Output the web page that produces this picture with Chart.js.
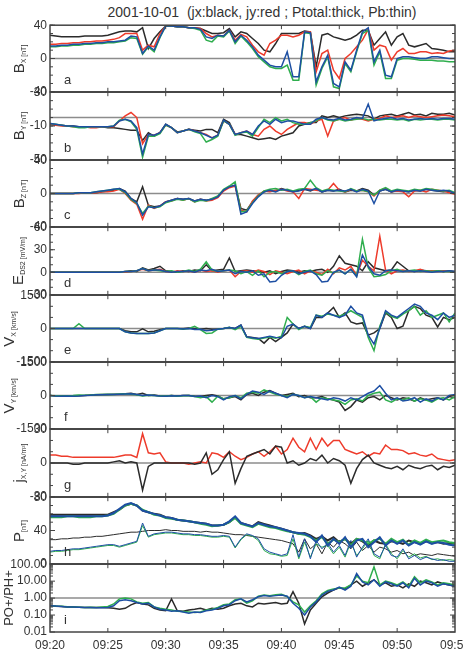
<!DOCTYPE html>
<html>
<head>
<meta charset="utf-8">
<script src="https://cdn.jsdelivr.net/npm/chart.js@4.4.1/dist/chart.umd.min.js"></script>
<style>
html, body { margin: 0; padding: 0; background: #fff; overflow: hidden; }
#page { position: relative; width: 463px; height: 657px; overflow: hidden;
        font-family: "Liberation Sans", Arial, sans-serif; color: #333; }
#page canvas { position: absolute; left: 0; }
#title { position: absolute; left: 0; top: 4px; width: 524px; text-align: center;
         font-size: 14px; white-space: pre; }
.ylab { position: absolute; transform: translate(-50%, -50%) rotate(-90deg);
        white-space: nowrap; font-size: 15px; line-height: 15px; }
.ylab sub { font-size: 7px; vertical-align: baseline; position: relative; top: 2px; }
.letter { position: absolute; left: 64px; font-size: 13px; line-height: 14px; }
</style>
</head>
<body>
<div id="page">
  <div id="title">2001-10-01  (jx:black, jy:red ; Ptotal:thick, Pb:thin)</div>
</div>
<script>
// samples every 0.5 min from 09:20 to 09:55
const STEP = 0.5;
const timeLabels = ['09:20', '09:25', '09:30', '09:35', '09:40', '09:45', '09:50', '09:55'];

const BLACK = '#2b2b2b', RED = '#ee3b2b', GREEN = '#2fae4e', BLUE = '#1d4fa3';

// a: Bx [nT]
const bxBlack = [
  28, 27, 26, 26, 26, 26, 27, 27, 27, 27,
  28, 30, 32, 33, 33, 32, 37, 12, 24, 32,
  39, 39, 38, 38, 37, 37, 36, 33, 30, 30,
  31, 36, 26, 32, 30, 24, 18, 10, 8, 18,
  30, 30, 30, 30, 33, 32, -10, 28, 30, 26,
  24, 22, 24, 28, 34, 34, 16, 24, 32, 16,
  26, 30, 16, 14, 16, 18, 12, 11, 10, 8,
  8];
const bxRed = [
  17, 17, 18, 18, 19, 19, 20, 20, 21, 21,
  22, 23, 25, 30, 30, 30, 10, 16, 14, 30,
  39, 39, 38, 38, 37, 37, 36, 30, 26, 28,
  27, 34, 22, 29, 26, 16, 8, 4, 18, 22,
  28, 28, 26, 28, 32, 32, -16, 6, 10, -14,
  -24, 0, 6, 14, 22, 35, 10, 16, 14, -2,
  8, 12, 6, 6, 8, 8, 6, 7, 6, 9,
  10];
const bxBlue = [
  15, 15, 16, 16, 17, 17, 18, 18, 19, 19,
  20, 20, 21, 22, 27, 26, 6, 15, 10, 26,
  39, 39, 38, 38, 37, 37, 35, 26, 24, 28,
  27, 34, 20, 28, 22, 14, 4, -2, -8, -10,
  -10, 8, -22, -22, 32, 31, -28, -10, 4, -30,
  -34, -4, -14, 10, 32, 37, -4, 10, -20, -22,
  0, 2, 2, 1, 0, 0, 2, 2, 1, 0,
  0];
const bxGreen = [
  14, 14, 15, 15, 16, 16, 17, 17, 18, 18,
  19, 19, 20, 21, 25, 24, 5, 14, 8, 25,
  39, 39, 38, 38, 37, 36, 34, 22, 20, 27,
  26, 33, 18, 27, 20, 12, 2, -4, -10, -12,
  -12, -8, -26, -26, 31, 30, -32, -12, 2, -34,
  -36, -6, -16, 8, 30, 34, -8, 8, -24, -24,
  -2, 0, 0, -1, -2, -2, -2, -3, -3, -4,
  -4];

// b: By [nT]
const byBlack = [
  -8, -9, -9, -10, -10, -11, -11, -11, -11, -11,
  -12, -12, -13, -14, -15, -15, -27, -18, -22, -18,
  -8, -12, -17, -16, -14, -15, -16, -14, -14, -18,
  -2, -6, -20, -20, -22, -24, -26, -25, -24, -26,
  -22, -20, -18, -10, -8, -6, -6, 2, 0, 2,
  0, 2, 3, 4, 3, 2, -2, 2, 3, 4,
  2, 4, 6, 3, 4, 2, 5, 4, 4, 5,
  3];
const byRed = [
  -8, -9, -10, -10, -11, -11, -11, -12, -12, -11,
  -11, -11, -4, 2, 6, 0, -31, -20, -21, -18,
  -9, -12, -18, -16, -14, -16, -18, -20, -24, -21,
  -4, -8, -20, -18, -16, -20, -22, -14, -10, -16,
  -20, -14, -10, -6, -6, -8, -4, -2, -22, -4,
  -2, 0, -3, -1, -2, -4, -2, -1, 2, 0,
  1, 2, 0, 2, 1, 0, 1, 2, 3, 2,
  1];
const byBlue = [
  -7, -8, -9, -10, -10, -11, -11, -11, -11, -11,
  -11, -10, -4, -2, -4, -12, -43, -20, -21, -18,
  -8, -12, -18, -16, -14, -16, -18, -21, -24, -21,
  -3, -8, -20, -18, -16, -20, -10, -4, -8, -2,
  -6, -4, -4, -6, -8, -8, -2, 0, -2, -3,
  -1, -3, -2, 0, -1, 16, -4, -2, -1, 0,
  -2, -1, -3, -2, -1, -2, -1, -2, -1, -1,
  -2];
const byGreen = [
  -7, -8, -9, -10, -11, -12, -12, -11, -11, -11,
  -11, -10, -3, -2, -5, -14, -47, -22, -22, -19,
  -9, -12, -18, -16, -14, -17, -19, -29, -26, -22,
  -4, -8, -21, -18, -17, -22, -12, -2, -6, 0,
  -4, -2, -6, -8, -8, -6, -4, 0, -3, -4,
  -2, -4, -3, -2, -1, -3, -2, -3, -2, -2,
  -3, -2, -4, -2, -3, -2, -2, -3, -2, -2,
  -3];

// c: Bz [nT]
const bzBlack = [
  0, 0, 0, 0, 0, 1, 1, 1, 1, 2,
  3, 4, 6, 3, -6, -10, 8, -14, -16, -15,
  -10, -8, -6, -7, -6, -9, -7, -8, -7, -4,
  4, 8, 10, -18, -20, -10, -2, 2, 4, 3,
  6, 4, 2, 4, 5, 3, 6, 2, 4, 3,
  5, 2, 4, 3, 6, 4, -2, 3, 5, 2,
  4, 3, 2, 4, 3, 5, 4, 3, 2, 3,
  0];
const bzRed = [
  0, 0, 0, 0, 0, 0, 1, 1, 1, 2,
  2, 3, 5, 0, -8, -13, -31, -14, -18, -15,
  -10, -9, -6, -8, -6, -10, -7, -9, -8, -5,
  3, 7, 9, -20, -22, -9, -2, 3, 2, 4,
  5, 3, 2, -6, 6, 5, 4, 3, 4, 12,
  4, 2, 5, 3, 4, 2, -3, 4, 6, 2,
  3, 2, -4, 3, 4, 2, 5, 4, 3, 1,
  -1];
const bzBlue = [
  0, 0, 0, 0, 0, 1, 1, 1, 2, 3,
  4, 5, 6, 2, -6, -11, -26, -16, -17, -15,
  -10, -8, -6, -7, -6, -9, -7, -8, -7, -4,
  4, 8, 10, -25, -22, -12, -4, 2, 4, 2,
  5, 4, 2, 3, 5, 4, 6, 2, 4, 3,
  4, 3, 5, 2, 5, 3, -12, 3, 5, 2,
  4, 3, 2, 4, 3, 5, 4, 3, 4, 3,
  0];
const bzGreen = [
  0, 0, 0, 0, 0, 1, 1, 1, 2, 3,
  4, 5, 5, 1, -7, -12, -24, -15, -17, -16,
  -11, -9, -7, -8, -6, -10, -8, -9, -6, -3,
  5, 9, 14, -22, -21, -11, -3, 3, 5, 6,
  4, 5, 3, 5, 6, 16, 7, 3, 5, 4,
  3, 2, 6, 3, 4, 2, -2, 4, 7, 3,
  5, 4, 3, 5, 4, 6, 5, 4, 3, 4,
  1];

// d: E [mV/m]
const eBlack = [
  0, 0, 0, 0, 0, 0, 0, 0, 0, 0,
  0, 0, 0, 1, 2, 1, 6, 3, 5, 8,
  2, 1, 0, 2, 1, 3, 2, 10, 2, 3,
  4, 19, 1, 2, 3, 2, 1, 0, 2, -2,
  1, 3, 2, 0, 2, 1, 3, 4, 0, 8,
  22, 12, 10, 8, 2, 14, 6, 4, 2, 3,
  14, 8, 2, 1, 3, 2, 1, 2, 1, 2,
  1];
const eRed = [
  0, 0, 0, 0, 0, 0, 0, 0, 0, 0,
  0, 0, 0, 0, 1, 2, 4, 2, 3, 4,
  1, 0, 2, 1, 2, 0, 3, 1, 2, 0,
  2, 3, -6, 1, 2, 0, 3, 1, -3, 2,
  0, -2, 1, 3, -2, 2, 0, -3, 4, -2,
  6, 3, 8, -4, 16, 8, 2, 48, 3, -2,
  2, 3, 1, 2, 4, 1, 2, 1, 2, 1,
  0];
const eGreen = [
  0, 0, 0, 0, 0, 0, 0, 0, 0, 0,
  0, 0, 0, 1, 1, 2, 5, 2, 3, 2,
  1, 2, 0, 1, 3, 1, 4, 14, 3, 1,
  2, 3, 2, -2, 1, -4, 2, -6, 0, 1,
  -2, 1, 2, -3, 1, 3, -2, -4, 2, -1,
  3, -2, 4, -5, 44, 6, -6, -5, -3, 2,
  4, 1, 2, 3, 1, 2, 1, 2, 1, 1,
  0];
const eBlue = [
  0, 0, 0, 0, 0, 0, 0, 0, 0, 0,
  0, 0, 0, 1, 1, 2, 5, 2, 3, 3,
  1, 0, 1, 1, 2, 0, 3, 2, 4, 1,
  2, 3, -2, 1, 0, 2, -4, -2, -13, -12,
  -4, 1, 2, -2, 0, 2, -3, -13, -12, 0,
  3, -2, 4, -6, 23, 8, -2, -4, 2, 3,
  2, 1, 2, 1, 2, 1, 0, 1, 1, 2,
  1];

// e: Vx [km/s]
const vxBlack = [
  0, 0, 0, 0, 0, 0, 0, 0, 0, 0,
  0, 0, 0, -100, -150, -150, -20, -150, -120, -60,
  0, 0, 0, 0, 20, 0, -30, 0, -30, -20,
  0, 50, 0, 150, -370, -400, -450, -660, -400, -590,
  -400, -200, 200, 0, 100, 0, 500, 500, 700, 950,
  500, 700, 300, 200, 250, -300, -200, 0, 700, 500,
  0, 100, 800, 1000, 900, 600, 500, 70, 500, 400,
  500];
const vxBlue = [
  0, 0, 0, 0, 0, 0, 0, 0, 0, 0,
  0, 0, 0, -150, -200, -220, -220, -220, -200, -100,
  0, 0, 0, -20, 0, -50, -30, -100, -80, -30,
  0, 50, 0, 150, -380, -420, -450, -400, -350, -400,
  -420, 100, 200, 0, 100, 0, 600, 500, 700, 600,
  500, 600, 1000, 700, 600, -300, -700, 0, 800, 600,
  500, 700, 900, 1100, 1000, 700, 600, 400, 700, 500,
  600];
const vxGreen = [
  0, 0, 0, 0, 0, 220, 0, 0, 0, 0,
  0, 0, 0, -150, -200, -220, -220, -220, -200, -100,
  0, 0, 0, -30, 0, 100, -50, -220, -200, -30,
  0, 50, -50, 100, -400, -450, -480, -430, -380, -440,
  -350, 500, 200, -50, 100, 50, 600, 550, 650, 600,
  550, 650, 800, 650, 500, -400, -1000, 100, 750, 550,
  450, 650, 800, 1000, 600, 800, 500, 600, 700, 300,
  700];

// f: Vy [km/s]
const vyBlack = [
  0, -20, -20, -10, -20, -10, 0, 20, 30, 40,
  50, 60, 60, 80, 100, 50, 100, 0, 20, -20,
  -30, 0, -20, 0, 0, -30, -50, 0, 30, -20,
  -150, -100, -50, -200, 50, 100, 0, 150, 220, 100,
  0, 50, 100, -50, 0, -100, -100, -50, -150, -200,
  -300, -670, -500, -200, -300, -100, -50, -200, 0, -100,
  -200, -100, -150, -250, -100, -200, -150, -100, -200, -50,
  -100];
const vyBlue = [
  0, -20, -30, -20, -30, -20, 0, 10, 30, 30,
  40, 50, 60, 70, 80, 40, 0, 20, 0, -20,
  -30, -10, -20, 0, 0, -50, -20, -100, 0, -50,
  -200, -50, 0, -150, 50, 200, 150, 50, 200, 100,
  0, -100, 50, 0, -100, -50, -100, -150, -200, -100,
  -150, -250, -100, -200, -50, 100, 200, 450, 100, -200,
  -100, -250, -200, -100, -300, -150, -250, -100, -200, 0,
  50];
const vyGreen = [
  0, -10, -20, -10, 0, 20, 10, 20, 40, 50,
  60, 50, 70, 80, 60, 30, -20, 10, 0, -20,
  -20, 0, -30, -10, 0, -50, -100, -50, -300, -30,
  -150, -100, 0, -100, 100, 150, 100, 250, 150, 50,
  0, -50, 50, 0, -100, -50, -300, -100, -150, -200,
  -250, -400, -200, -150, -250, 0, 100, 150, -200, -300,
  -150, -200, -100, -250, -150, -200, -300, -150, -100, -200,
  -50];

// g: current density jx (black), jy (red) [nA/m2]
const jxBlack = [
  0, 0, 0, 0, -1, -1, 0, 0, 0, 0,
  0, 1, 2, 0, 1, 0, -24, -3, 0, 0,
  0, 0, 0, 0, 0, -1, 0, 9, -10, -6,
  3, 10, -18, -5, 6, 8, 10, 12, 8, 15,
  14, 0, 2, -2, 0, 4, 2, 7, 0, 4,
  2, -2, -18, -5, 3, 7, 0, -2, -4, -5,
  -3, -6, -2, -4, -5, -3, -2, -6, -3, -4,
  -2];
const jyRed = [
  7, 7, 6, 6, 5, 5, 5, 5, 5, 5,
  5, 5, 6, 7, 7, 5, 26, 9, 8, 9,
  1, 0, 0, 0, -1, 0, 1, 0, 9, 8,
  5, 10, 6, 3, 5, 8, 10, 6, 10, 15,
  8, 12, 22, 14, 10, 22, 12, 22, 15, 20,
  20, 12, 10, 8, 10, 6, 9, 8, 16, 12,
  12, 11, 8, 9, 7, 6, 8, 4, 3, 2,
  3];

// h: total pressure (thick) and magnetic pressure (thin)
const ptBlack = [
  59, 59, 59, 59, 59, 59, 59, 59, 59, 59,
  59, 62, 65, 70, 72, 70, 64, 62, 60, 59,
  56, 55, 53, 52, 51, 50, 49, 48, 46, 46,
  47, 50, 56, 49, 47, 45, 50, 48, 46, 44,
  42, 40, 38, 36, 37, 34, 30, 33, 28, 32,
  26, 30, 24, 30, 27, 22, 28, 25, 24, 27,
  26, 24, 28, 26, 24, 27, 25, 26, 24, 25,
  24];
const ptBlue = [
  57, 57, 57, 57, 57, 57, 57, 57, 57, 57,
  58, 61, 66, 71, 73, 70, 64, 62, 60, 58,
  56, 55, 53, 52, 51, 50, 49, 48, 46, 46,
  47, 51, 57, 49, 47, 45, 49, 47, 45, 44,
  42, 40, 38, 37, 36, 33, 26, 34, 22, 30,
  24, 32, 20, 28, 30, 20, 26, 32, 22, 28,
  24, 28, 22, 26, 23, 27, 24, 26, 25, 23,
  22];
const ptGreen = [
  56, 56, 56, 57, 57, 56, 56, 56, 57, 57,
  58, 60, 65, 70, 72, 70, 65, 62, 59, 58,
  55, 54, 53, 52, 51, 50, 48, 47, 45, 46,
  47, 50, 55, 48, 46, 44, 48, 46, 44, 43,
  41, 39, 38, 36, 35, 32, 28, 32, 24, 29,
  26, 30, 22, 30, 28, 24, 28, 30, 24, 30,
  26, 29, 23, 28, 25, 29, 26, 27, 28, 26,
  25];
const pbBlack = [
  29, 29, 30, 30, 31, 31, 32, 32, 33, 33,
  34, 35, 36, 37, 38, 38, 39, 40, 40, 40,
  41, 40, 40, 39, 39, 39, 38, 39, 38, 38,
  37, 36, 35, 35, 34, 33, 32, 31, 30, 29,
  28, 26, 24, 14, 30, 18, 24, 12, 26, 20,
  28, 24, 18, 26, 16, 22, 14, 20, 18, 14,
  16, 12, 14, 10, 12, 11, 10, 12, 11, 10,
  9];
const pbBlue = [
  15, 16, 16, 17, 18, 18, 19, 20, 21, 22,
  23, 23, 21, 23, 25, 27, 49, 33, 36, 37,
  38, 38, 37, 36, 36, 35, 35, 34, 33, 33,
  34, 33, 20, 30, 36, 34, 30, 18, 14, 12,
  10, 12, 35, 8, 30, 6, 28, 18, 25, 14,
  22, 10, 28, 8, 20, 30, 12, 8, 22, 10,
  8, 18, 6, 10, 5, 8, 6, 4, 5, 3,
  3];
const pbGreen = [
  14, 15, 15, 16, 17, 17, 18, 19, 20, 21,
  22, 22, 20, 22, 24, 26, 46, 32, 35, 36,
  37, 37, 36, 35, 35, 34, 34, 33, 32, 32,
  33, 32, 19, 29, 35, 33, 28, 16, 12, 11,
  9, 10, 30, 6, 26, 8, 24, 20, 22, 12,
  20, 8, 26, 10, 18, 28, 10, 6, 24, 12,
  6, 16, 8, 12, 7, 9, 5, 6, 4, 5,
  4];

// i: O+/H+ pressure ratio
const ratioBlack = [
  0.35, 0.33, 0.32, 0.30, 0.30, 0.29, 0.28, 0.28, 0.28, 0.28,
  0.27, 0.25, 0.22, 0.25, 0.40, 0.55, 0.45, 0.40, 0.25, 0.20,
  0.18, 0.9, 0.18, 0.17, 0.20, 0.22, 0.25, 0.20, 0.25, 0.22,
  0.25, 0.35, 0.45, 0.5, 0.35, 0.3, 0.5, 0.45, 0.5, 0.55,
  0.45, 0.5, 2.4, 0.5, 0.03, 0.2, 0.5, 1.2, 2, 3,
  4, 3.5, 6, 10, 5, 8, 12, 6, 8, 5,
  6, 4, 7, 5, 10, 8, 6, 9, 7, 6,
  5];
const ratioBlue = [
  0.35, 0.34, 0.32, 0.30, 0.30, 0.29, 0.28, 0.28, 0.27, 0.27,
  0.28, 0.35, 0.7, 0.8, 0.7, 0.55, 0.45, 0.5, 0.3, 0.22,
  0.2, 0.17, 0.18, 0.15, 0.13, 0.15, 0.14, 0.18, 0.2, 0.25,
  0.35, 0.4, 0.7, 0.9, 0.6, 0.8, 1.2, 1.4, 1.3, 1.4,
  1.5, 1.3, 0.5, 0.25, 0.1, 0.3, 0.6, 1.5, 2.5, 3,
  4.5, 3, 5, 28, 9, 6, 12, 5, 9, 7,
  5, 8, 4, 15, 6, 10, 8, 5, 7, 6,
  5];
const ratioGreen = [
  0.36, 0.34, 0.33, 0.31, 0.30, 0.29, 0.28, 0.29, 0.28, 0.30,
  0.32, 0.45, 0.9, 1.0, 0.9, 0.6, 0.5, 0.55, 0.3, 0.25,
  0.22, 0.2, 0.17, 0.16, 0.15, 0.14, 0.15, 0.2, 0.22, 0.28,
  0.4, 0.45, 0.8, 0.9, 0.5, 0.7, 1.3, 1.5, 1.4, 1.6,
  1.7, 1.2, 0.6, 0.4, 0.15, 0.35, 0.7, 1.8, 2.8, 3.5,
  4, 4, 6, 20, 10, 8, 70, 6, 10, 8,
  6, 9, 5, 18, 8, 12, 9, 6, 8, 7,
  6];

// panel edges (page px) and layout constants
const edges = [25, 92, 160, 227, 295, 362, 429, 497, 564, 632];
const PAD = 10, XAXIS = 25, CANVAS_W = 490, AXIS_W = 50, RIGHT_PAD = 35;

const panels = [
  { letter: 'a', label: 'B<sub>X [nT]</sub>', labX: 20, min: -40, max: 40, ticks: [-40, 0, 40], minor: 10, ref: 0,
    series: [[bxBlue, BLUE], [bxGreen, GREEN], [bxRed, RED], [bxBlack, BLACK]] },
  { letter: 'b', label: 'B<sub>Y [nT]</sub>', labX: 20, min: -50, max: 30, ticks: [-50, -10, 30], minor: 10, ref: 0,
    series: [[byBlue, BLUE], [byGreen, GREEN], [byRed, RED], [byBlack, BLACK]] },
  { letter: 'c', label: 'B<sub>Z [nT]</sub>', labX: 20, min: -40, max: 40, ticks: [-40, 0, 40], minor: 10, ref: 0,
    series: [[bzBlue, BLUE], [bzGreen, GREEN], [bzRed, RED], [bzBlack, BLACK]] },
  { letter: 'd', label: 'E<sub>DS2 [mV/m]</sub>', labX: 19, min: -30, max: 60, ticks: [-30, 0, 30, 60], minor: 10, ref: 0,
    series: [[eBlue, BLUE], [eGreen, GREEN], [eRed, RED], [eBlack, BLACK]] },
  { letter: 'e', label: 'V<sub>X [km/s]</sub>', labX: 10, min: -1500, max: 1500, ticks: [-1500, 0, 1500], minor: 500, ref: 0,
    series: [[vxBlue, BLUE], [vxGreen, GREEN], [vxBlack, BLACK]] },
  { letter: 'f', label: 'V<sub>Y [km/s]</sub>', labX: 10, min: -1500, max: 1500, ticks: [-1500, 0, 1500], minor: 500, ref: 0,
    series: [[vyBlue, BLUE], [vyGreen, GREEN], [vyBlack, BLACK]] },
  { letter: 'g', label: 'j<sub>X,Y [nA/m²]</sub>', labX: 20, min: -30, max: 30, ticks: [-30, 0, 30], minor: 10, ref: 0,
    series: [[jxBlack, BLACK], [jyRed, RED]] },
  { letter: 'h', label: 'P<sub>[nT]</sub>', labX: 20, min: 0, max: 80, ticks: [0, 40, 80], minor: 10,
    series: [[ptBlue, BLUE, 2], [ptGreen, GREEN, 2], [ptBlack, BLACK, 2],
             [pbBlue, BLUE, 1], [pbGreen, GREEN, 1], [pbBlack, BLACK, 1]] },
  { letter: 'i', label: 'PO+/PH+', labX: 8, plain: true, log: true, min: 0.01, max: 100,
    ticks: [0.01, 0.1, 1, 10, 100], ref: 1,
    series: [[ratioBlue, BLUE], [ratioGreen, GREEN], [ratioBlack, BLACK]] }
];

function minorValues(p) {
  const out = [];
  if (p.log) {
    for (let e = -2; e < 2; e++) for (let d = 2; d <= 9; d++) out.push(d * Math.pow(10, e));
  } else {
    for (let v = p.min; v <= p.max; v += p.minor) out.push(v);
  }
  return out;
}

// frame, inward ticks and reference line
function framePlugin(p) {
  return {
    id: 'frame',
    beforeDatasetsDraw(chart) {
      if (p.ref === undefined) return;
      const {ctx, chartArea: a} = chart;
      const y = chart.scales.y.getPixelForValue(p.ref);
      ctx.save();
      ctx.strokeStyle = '#8c8c8c';
      ctx.lineWidth = 1.5;
      ctx.beginPath(); ctx.moveTo(a.left, y); ctx.lineTo(a.right, y); ctx.stroke();
      ctx.restore();
    },
    afterDraw(chart) {
      const {ctx, chartArea: a, scales: {x, y}} = chart;
      ctx.save();
      ctx.strokeStyle = '#444';
      ctx.lineWidth = 1;
      ctx.beginPath();
      minorValues(p).forEach(v => {
        const py = y.getPixelForValue(v);
        ctx.moveTo(a.left, py); ctx.lineTo(a.left + 3, py);
        ctx.moveTo(a.right, py); ctx.lineTo(a.right - 3, py);
      });
      p.ticks.forEach(v => {
        const py = y.getPixelForValue(v);
        ctx.moveTo(a.left, py); ctx.lineTo(a.left + 5, py);
        ctx.moveTo(a.right, py); ctx.lineTo(a.right - 5, py);
      });
      for (let m = 5; m < 35; m += 5) {
        const px = x.getPixelForValue(m);
        ctx.moveTo(px, a.top); ctx.lineTo(px, a.top + 4);
        ctx.moveTo(px, a.bottom); ctx.lineTo(px, a.bottom - 4);
      }
      ctx.stroke();
      ctx.lineWidth = 1.5;
      ctx.strokeRect(a.left, a.top, a.right - a.left, a.bottom - a.top);
      ctx.restore();
    }
  };
}

const page = document.getElementById('page');
const tickFont = { family: '"Liberation Sans", Arial, sans-serif', size: 12 };

panels.forEach((p, k) => {
  const top = edges[k], bottom = edges[k + 1];
  const last = k === panels.length - 1;
  const h = bottom - top + PAD + (last ? XAXIS : PAD);

  const cv = document.createElement('canvas');
  cv.width = CANVAS_W; cv.height = h;
  cv.style.top = (top - PAD) + 'px';
  cv.style.width = CANVAS_W + 'px'; cv.style.height = h + 'px';
  page.appendChild(cv);

  const lab = document.createElement('div');
  lab.className = 'ylab';
  if (p.plain) lab.style.fontSize = '13px';
  lab.innerHTML = p.label;
  lab.style.left = p.labX + 'px';
  lab.style.top = ((top + bottom) / 2) + 'px';
  page.appendChild(lab);

  const let_ = document.createElement('div');
  let_.className = 'letter';
  let_.textContent = p.letter;
  let_.style.top = (bottom - 19) + 'px';
  page.appendChild(let_);

  new Chart(cv, {
    type: 'line',
    data: {
      datasets: p.series.map(([vals, color, w]) => ({
        data: vals.map((v, i) => ({ x: i * STEP, y: v })),
        borderColor: color,
        borderWidth: w || 1.5,
        pointRadius: 0,
        fill: false,
        tension: 0
      }))
    },
    options: {
      responsive: false,
      animation: false,
      events: [],
      layout: { padding: { top: PAD, bottom: last ? 0 : PAD, left: 0, right: RIGHT_PAD } },
      plugins: { legend: { display: false }, tooltip: { enabled: false } },
      scales: {
        x: {
          type: 'linear', min: 0, max: 35, display: last,
          grid: { display: false, drawTicks: false },
          border: { display: false },
          ticks: {
            stepSize: 5, autoSkip: false, maxRotation: 0, padding: 6,
            font: tickFont, color: '#333',
            callback: v => timeLabels[Math.round(v / 5)]
          },
          afterFit: s => { if (last) s.height = XAXIS; }
        },
        y: {
          type: p.log ? 'logarithmic' : 'linear',
          min: p.min, max: p.max,
          grid: { display: false, drawTicks: false },
          border: { display: false },
          afterFit: s => { s.width = AXIS_W; },
          afterBuildTicks: s => { s.ticks = p.ticks.map(v => ({ value: v })); },
          ticks: {
            autoSkip: false, padding: 3, font: tickFont, color: '#333',
            callback: v => p.log ? Number(v).toFixed(2) : String(v)
          }
        }
      }
    },
    plugins: [framePlugin(p)]
  });
});
</script>
</body>
</html>
